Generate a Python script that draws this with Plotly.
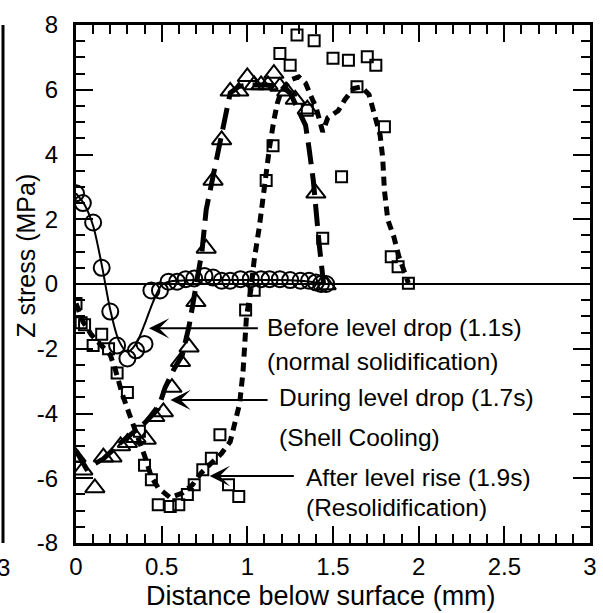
import plotly.graph_objects as go

# ---------------- data ----------------
# Before level drop (1.1s) - circles
circ_x = [0, 0.04, 0.10, 0.15, 0.20, 0.24, 0.30, 0.35, 0.40, 0.44, 0.49, 0.54, 0.59, 0.64, 0.69,
          0.75, 0.80, 0.85, 0.90, 0.96, 1.02, 1.08, 1.13, 1.19, 1.25, 1.31, 1.36, 1.40, 1.43, 1.46]
circ_y = [2.8, 2.5, 1.9, 0.5, -0.85, -1.9, -2.3, -2.05, -1.85, -0.2, -0.2, 0.07, 0.07, 0.15, 0.17,
          0.25, 0.2, 0.1, 0.1, 0.15, 0.15, 0.15, 0.15, 0.15, 0.12, 0.1, 0.1, 0.05, 0.0, 0.0]
circ_fit_x = [0, 0.05, 0.1, 0.15, 0.2, 0.25, 0.3, 0.35, 0.4, 0.45, 0.5, 0.55, 0.6, 0.7, 0.8, 0.9,
              1.0, 1.1, 1.2, 1.3, 1.4, 1.45]
circ_fit_y = [2.8, 2.45, 1.8, 0.6, -0.8, -1.75, -2.1, -1.85, -1.25, -0.55, -0.03, 0.08, 0.1, 0.12,
              0.12, 0.12, 0.12, 0.12, 0.12, 0.1, 0.05, 0.0]

# During level drop (1.7s) - triangles
tri_x = [0, 0.04, 0.11, 0.16, 0.21, 0.26, 0.30, 0.35, 0.41, 0.46, 0.51, 0.56, 0.61, 0.66, 0.70,
         0.76, 0.80, 0.85, 0.90, 0.95, 1.00, 1.04, 1.08, 1.12, 1.155, 1.19, 1.23, 1.28, 1.35, 1.40, 1.46]
tri_y = [-5.35, -5.75, -6.3, -5.35, -5.35, -5.0, -4.9, -4.75, -4.8, -4.1, -3.95, -3.2, -2.4, -1.95, -0.55,
         1.1, 3.2, 4.45, 5.95, 5.95, 6.4, 6.15, 6.15, 6.15, 6.5, 6.1, 5.95, 5.7, 5.4, 2.8, -0.03]
tri_fit_x = [0, 0.06, 0.16, 0.25, 0.34, 0.40, 0.48, 0.52, 0.57, 0.62, 0.66, 0.70, 0.735, 0.76, 0.80,
             0.83, 0.87, 0.90, 0.95, 1.0, 1.1, 1.2, 1.25, 1.29, 1.34, 1.36, 1.385, 1.42, 1.445]
tri_fit_y = [-5.15, -5.7, -5.4, -4.95, -4.56, -4.3, -3.85, -3.2, -2.65, -2.2, -1.3, -0.1, 1.0, 2.3, 3.3,
             4.2, 5.2, 5.9, 6.1, 6.15, 6.15, 6.1, 5.9, 5.45, 4.9, 4.2, 3.2, 1.2, 0.0]

# After level rise (1.9s) - squares
sq_x = [0, 0.03, 0.05, 0.10, 0.15, 0.19, 0.24, 0.30, 0.37, 0.40, 0.44, 0.48, 0.55, 0.60, 0.65, 0.69,
        0.74, 0.79, 0.84, 0.89, 0.95, 0.99, 1.04, 1.11, 1.15, 1.19, 1.25, 1.29, 1.35, 1.39, 1.44, 1.50,
        1.55, 1.59, 1.64, 1.70, 1.75, 1.80, 1.84, 1.88, 1.94]
sq_y = [-0.6, -1.2, -1.26, -1.9, -1.55, -2.0, -2.75, -3.35, -4.55, -5.6, -6.05, -6.82, -6.87, -6.82,
        -6.5, -6.2, -5.74, -5.38, -4.66, -6.2, -6.56, -0.8, -0.19, 3.2, 4.27, 7.12, 6.76, 7.69, 5.37,
        7.51, 1.41, 6.97, 3.31, 6.91, 6.09, 7.02, 6.76, 4.86, 0.84, 0.53, 0.02]
sq_fit_x = [0, 0.04, 0.09, 0.14, 0.2, 0.23, 0.27, 0.31, 0.34, 0.4, 0.44, 0.48, 0.55, 0.62, 0.68, 0.73,
            0.79, 0.85, 0.9, 0.925, 0.955, 0.975, 0.985, 0.995, 1.02, 1.04, 1.07, 1.09, 1.11, 1.13,
            1.155, 1.175, 1.20, 1.25, 1.30, 1.34, 1.38, 1.40, 1.44, 1.47, 1.53, 1.57, 1.62, 1.665,
            1.71, 1.75, 1.775, 1.79, 1.80, 1.82, 1.855, 1.885, 1.915, 1.94]
sq_fit_y = [-0.6, -1.16, -1.57, -1.83, -2.19, -2.65, -3.4, -4.0, -4.4, -5.3, -5.96, -6.3, -6.6, -6.46,
            -6.2, -5.84, -5.53, -5.23, -4.87, -4.35, -3.7, -2.7, -1.8, -1.0, -0.2, 0.74, 1.77, 2.69,
            3.52, 4.24, 5.06, 5.58, 5.99, 6.3, 6.4, 6.2, 5.7, 5.47, 4.7, 5.14, 5.35, 5.7, 6.04, 6.09,
            5.85, 5.1, 4.6, 3.9, 2.9, 1.98, 1.46, 0.84, 0.33, 0.03]

# annotations
ann_lines = [["Before level drop (1.1s)", "(normal solidification)"],
             ["During level drop (1.7s)", "(Shell Cooling)"],
             ["After level rise (1.9s)", "(Resolidification)"]]
ann_text_x = [1.105, 1.175, 1.33]
ann_text_y = [[-1.33, -2.38], [-3.52, -4.75], [-5.99, -6.91]]
arrow_tail_x = [1.07, 1.127, 1.28]
arrow_tip_x = [0.426, 0.551, 0.78]
arrow_y = [-1.37, -3.58, -5.93]

x_ticks = [0, 0.5, 1, 1.5, 2, 2.5, 3]
x_ticklabels = ["0", "0.5", "1", "1.5", "2", "2.5", "3"]
y_ticks = [-8, -6, -4, -2, 0, 2, 4, 6, 8]
y_ticklabels = ["-8", "-6", "-4", "-2", "0", "2", "4", "6", "8"]

FONT = "Liberation Sans, Arial, Helvetica, sans-serif"
BLACK = "black"

fig = go.Figure()

# fitted curves
fig.add_trace(go.Scatter(x=circ_fit_x, y=circ_fit_y, mode="lines",
                         line=dict(color=BLACK, width=2, shape="spline", smoothing=0.8),
                         showlegend=False, hoverinfo="skip"))
fig.add_trace(go.Scatter(x=tri_fit_x, y=tri_fit_y, mode="lines",
                         line=dict(color=BLACK, width=5, dash="22px,9px"),
                         showlegend=False, hoverinfo="skip"))
fig.add_trace(go.Scatter(x=sq_fit_x, y=sq_fit_y, mode="lines",
                         line=dict(color=BLACK, width=5, dash="9px,6px"),
                         showlegend=False, hoverinfo="skip"))

# markers
fig.add_trace(go.Scatter(x=circ_x, y=circ_y, mode="markers",
                         marker=dict(symbol="circle-open", size=16, color=BLACK, line=dict(width=2)),
                         showlegend=False))
fig.add_trace(go.Scatter(x=tri_x, y=tri_y, mode="markers",
                         marker=dict(symbol="triangle-up-open", size=17, color=BLACK, line=dict(width=2)),
                         showlegend=False))
fig.add_trace(go.Scatter(x=sq_x, y=sq_y, mode="markers",
                         marker=dict(symbol="square-open", size=11, color=BLACK, line=dict(width=2)),
                         showlegend=False))

annotations = []
for i, lines in enumerate(ann_lines):
    annotations.append(dict(x=arrow_tip_x[i], y=arrow_y[i], ax=arrow_tail_x[i], ay=arrow_y[i],
                            xref="x", yref="y", axref="x", ayref="y", text="",
                            showarrow=True, arrowhead=3, arrowsize=1.7, arrowwidth=2,
                            arrowcolor=BLACK))
    for j, t in enumerate(lines):
        annotations.append(dict(x=ann_text_x[i], y=ann_text_y[i][j], xref="x", yref="y",
                                text=t, showarrow=False, xanchor="left", yanchor="middle",
                                font=dict(family=FONT, size=24.5, color=BLACK)))

# axis titles
annotations.append(dict(x=(324.5 - 76) / 521, y=(543 - 596) / 518, xref="paper", yref="paper",
                        text="Distance below surface (mm)", showarrow=False,
                        xanchor="center", yanchor="middle",
                        font=dict(family=FONT, size=27, color=BLACK)))
annotations.append(dict(x=(25 - 76) / 521, y=(543 - 256) / 518, xref="paper", yref="paper",
                        text="Z stress (MPa)", showarrow=False, textangle=-90,
                        xanchor="center", yanchor="middle",
                        font=dict(family=FONT, size=25, color=BLACK)))
# cropped neighbour panel label
annotations.append(dict(x=(11 - 76) / 521, y=(543 - 567) / 518, xref="paper", yref="paper",
                        text="3", showarrow=False, xanchor="right", yanchor="middle",
                        font=dict(family=FONT, size=24, color=BLACK)))

axis_common = dict(showgrid=False, showline=True, linecolor=BLACK, linewidth=3, mirror="ticks",
                   ticks="inside", ticklen=17, tickwidth=2, tickcolor=BLACK,
                   tickfont=dict(family=FONT, size=24, color=BLACK))

fig.update_layout(
    width=603, height=613, autosize=False,
    margin=dict(l=76, r=6, t=25, b=70, pad=0),
    paper_bgcolor="white", plot_bgcolor="white",
    xaxis=dict(range=[0, 3], tickvals=x_ticks, ticktext=x_ticklabels, zeroline=False,
               ticklabelstandoff=0,
               minor=dict(dtick=0.1, ticks="inside", ticklen=9, tickwidth=2, tickcolor=BLACK,
                          showgrid=False),
               **axis_common),
    yaxis=dict(range=[-8, 8], tickvals=y_ticks, ticktext=y_ticklabels,
               zeroline=True, zerolinecolor=BLACK, zerolinewidth=2,
               ticklabelstandoff=10,
               minor=dict(dtick=0.5, ticks="inside", ticklen=9, tickwidth=2, tickcolor=BLACK,
                          showgrid=False),
               **axis_common),
    annotations=annotations,
    shapes=[dict(type="line", xref="paper", yref="paper", x0=(2 - 76) / 521, x1=(2 - 76) / 521,
                 y0=0, y1=1, line=dict(color=BLACK, width=3))],
    showlegend=False,
)

fig.write_html("out.html", config={"displayModeBar": False},
               post_script="document.body.style.margin='0px';document.body.style.overflow='hidden';")
